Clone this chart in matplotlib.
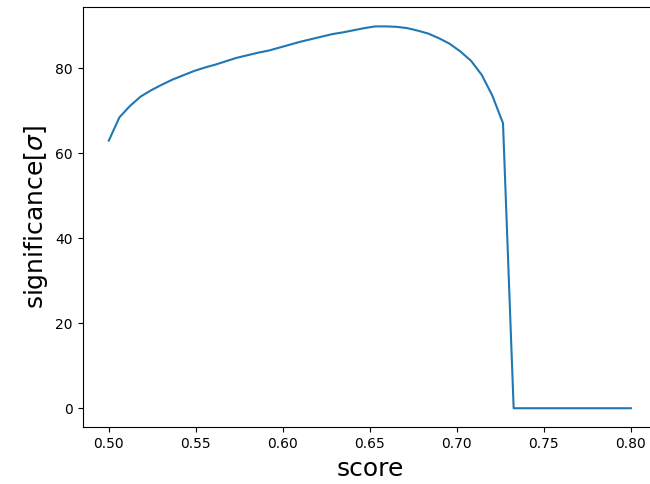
import numpy as np
import matplotlib
matplotlib.use("Agg")
import matplotlib.pyplot as plt

# score thresholds (50 evenly spaced cuts)
score = np.linspace(0.5, 0.8, 50)

# significance, one value per cut
significance = [
    63.0, 68.5, 71.2, 73.4, 74.9, 76.2, 77.4, 78.4, 79.4, 80.2,
    80.9, 81.7, 82.5, 83.1, 83.7, 84.2, 84.9, 85.6, 86.3, 86.9,
    87.5, 88.1, 88.5, 89.0, 89.5, 89.9, 89.9, 89.8, 89.5, 88.9,
    88.2, 87.1, 85.8, 84.0, 81.8, 78.5, 73.6, 67.1, 0.0, 0.0,
    0.0, 0.0, 0.0, 0.0, 0.0, 0.0, 0.0, 0.0, 0.0, 0.0,
]

fig = plt.figure(figsize=(6.5, 4.84), dpi=100)
ax = fig.add_axes([0.1272, 0.1171, 0.8835, 0.8678])

ax.plot(score, significance)

ax.set_xlabel("score", fontsize=18)
ax.set_ylabel(r"significance[$\sigma$]", fontsize=18)

fig.savefig("out.png", dpi=100)
